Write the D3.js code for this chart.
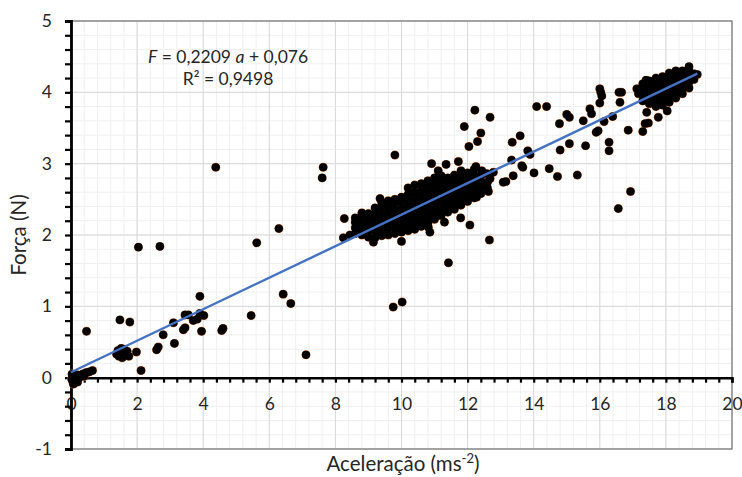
<!DOCTYPE html>
<html><head><meta charset="utf-8">
<script src="https://cdn.jsdelivr.net/npm/d3@7"></script>
<style>body{margin:0;background:#fff}svg{display:block}text{font-family:Lato,"DejaVu Sans",sans-serif;fill:#262626}</style>
</head><body>
<svg id="c" width="742" height="477"></svg>
<script>
// ---- data ----
const xTicks = [0,2,4,6,8,10,12,14,16,18,20];
const yTicks = [-1,0,1,2,3,4,5];
const slope = 0.2209, intercept = 0.076, r2 = "0,9498";
const lowPoints = [[0.02,-0.02],[0.05,-0.05],[0.07,-0.09],[0.10,-0.08],[0.03,0.05],[0.08,0.03],[0.12,0.00],[0.15,-0.03],[0.18,0.04],[0.20,-0.06],[0.25,0.00],[0.30,0.03],[0.35,0.05],[0.40,0.02],[0.45,0.07],[0.55,0.08],[0.65,0.10],[0.47,0.65],
[1.38,0.33],[1.42,0.38],[1.45,0.30],[1.50,0.36],[1.52,0.41],[1.55,0.28],[1.60,0.40],[1.65,0.32],[1.70,0.37],[1.75,0.30],[1.48,0.81],[1.78,0.78],[1.98,0.36],[2.12,0.10],[2.04,1.83],[2.69,1.84],[2.59,0.39],[2.64,0.43],[2.79,0.60],[3.13,0.48],[3.10,0.77],[3.40,0.67],[3.45,0.70],[3.45,0.88],[3.55,0.88],[3.70,0.80],[3.82,0.82],[3.90,0.90],[4.02,0.87],[3.95,0.65],[3.90,1.14],[4.38,2.95],[4.56,0.66],[4.60,0.69],[5.45,0.87],[5.62,1.89],[6.29,2.09],[6.42,1.17],[6.65,1.04],[7.11,0.32],[7.60,2.80],[7.63,2.95]];
const midPoints = [[8.24,1.96],[8.27,2.23],[8.44,2.00],[9.15,1.90],[9.35,2.51],[9.80,3.12],[9.75,0.99],[10.02,1.06],[10.00,1.91],[10.81,2.11],[10.86,2.04],[10.91,3.00],[11.11,2.90],[11.35,2.99],[11.72,3.03],[11.30,2.18],[11.79,2.24],[11.79,2.42],[12.07,2.14],[11.42,1.61],[12.66,1.93],[12.22,3.75],[12.68,3.65],[11.90,3.52],[12.40,3.43],[12.30,3.31],[12.04,3.24],[12.25,2.96],[12.43,2.90],[12.58,2.86],[12.68,2.79],[12.78,2.88],[12.27,2.53],[12.63,2.61]];
const clusterPoints = [
[8.6,2.02],[8.6,2.10],[8.6,2.18],[8.6,2.24],
[8.8,2.00],[8.8,2.08],[8.8,2.16],[8.8,2.25],[8.8,2.31],
[9.0,1.97],[9.0,2.06],[9.0,2.14],[9.0,2.22],[9.0,2.30],
[9.2,1.96],[9.2,2.05],[9.2,2.13],[9.2,2.21],[9.2,2.29],[9.2,2.38],
[9.4,1.99],[9.4,2.07],[9.4,2.15],[9.4,2.23],[9.4,2.31],[9.4,2.40],[9.4,2.46],
[9.6,2.00],[9.6,2.09],[9.6,2.17],[9.6,2.25],[9.6,2.33],[9.6,2.41],[9.6,2.48],
[9.8,2.02],[9.8,2.10],[9.8,2.18],[9.8,2.26],[9.8,2.35],[9.8,2.44],[9.8,2.50],
[10.0,2.04],[10.0,2.12],[10.0,2.20],[10.0,2.28],[10.0,2.37],[10.0,2.46],[10.0,2.53],
[10.2,2.06],[10.2,2.14],[10.2,2.22],[10.2,2.30],[10.2,2.39],[10.2,2.48],[10.2,2.57],[10.2,2.66],
[10.4,2.08],[10.4,2.16],[10.4,2.24],[10.4,2.33],[10.4,2.42],[10.4,2.51],[10.4,2.60],[10.4,2.70],
[10.6,2.12],[10.6,2.20],[10.6,2.28],[10.6,2.36],[10.6,2.45],[10.6,2.54],[10.6,2.63],[10.6,2.72],
[10.8,2.16],[10.8,2.24],[10.8,2.32],[10.8,2.40],[10.8,2.49],[10.8,2.58],[10.8,2.67],[10.8,2.76],
[11.0,2.22],[11.0,2.30],[11.0,2.38],[11.0,2.46],[11.0,2.55],[11.0,2.63],[11.0,2.72],[11.0,2.80],
[11.2,2.27],[11.2,2.35],[11.2,2.43],[11.2,2.51],[11.2,2.60],[11.2,2.68],[11.2,2.77],[11.2,2.83],
[11.4,2.32],[11.4,2.40],[11.4,2.48],[11.4,2.56],[11.4,2.64],[11.4,2.72],[11.4,2.80],
[11.6,2.36],[11.6,2.44],[11.6,2.52],[11.6,2.60],[11.6,2.68],[11.6,2.76],[11.6,2.84],
[11.8,2.42],[11.8,2.50],[11.8,2.58],[11.8,2.66],[11.8,2.74],[11.8,2.82],[11.8,2.90],
[12.0,2.47],[12.0,2.55],[12.0,2.63],[12.0,2.71],[12.0,2.79],[12.0,2.87],
[12.2,2.52],[12.2,2.60],[12.2,2.68],[12.2,2.76],[12.2,2.84],[12.2,2.92],
[12.4,2.58],[12.4,2.66],[12.4,2.74],[12.4,2.82],
[12.6,2.66],[12.6,2.74]];
const highPoints = [[13.08,2.74],[13.16,2.75],[13.38,2.83],[13.64,2.97],[13.67,2.95],[13.33,3.05],[13.59,3.39],[13.35,3.30],[13.82,3.18],[13.89,3.13],[14.01,2.87],[14.47,2.93],[14.72,2.82],[15.32,2.84],[14.09,3.80],[14.39,3.80],[14.78,3.56],[15.00,3.69],[15.08,3.65],[14.80,3.19],[15.08,3.28],[15.50,3.60],[15.57,3.25],[15.70,3.77],[15.75,3.70],[15.89,3.44],[15.95,3.46],[16.00,4.05],[16.06,3.95],[16.03,4.00],[16.00,3.85],[16.13,3.59],[16.39,3.66],[16.28,3.30],[16.28,3.18],[16.58,4.00],[16.66,4.00],[16.61,3.86],[16.86,3.47],[16.93,2.61],[16.56,2.37],[17.12,4.05],[17.17,3.98],[17.30,3.45],[17.37,3.56],[17.47,3.57],[17.42,3.72],[17.77,3.65],[18.04,3.74],[17.40,4.17],[17.47,4.12]];
const topCluster = [
[17.3,3.88],[17.3,3.96],[17.3,4.04],[17.3,4.12],
[17.5,3.84],[17.5,3.92],[17.5,4.00],[17.5,4.08],[17.5,4.16],
[17.7,3.80],[17.7,3.88],[17.7,3.96],[17.7,4.04],[17.7,4.12],[17.7,4.20],
[17.9,3.82],[17.9,3.90],[17.9,3.98],[17.9,4.06],[17.9,4.14],[17.9,4.22],
[18.1,3.86],[18.1,3.94],[18.1,4.02],[18.1,4.10],[18.1,4.18],[18.1,4.27],
[18.3,3.92],[18.3,4.00],[18.3,4.08],[18.3,4.16],[18.3,4.24],[18.3,4.30],
[18.5,3.98],[18.5,4.06],[18.5,4.14],[18.5,4.22],[18.5,4.30],
[18.7,4.06],[18.7,4.14],[18.7,4.22],[18.7,4.30],[18.7,4.36],
[18.85,4.18],[18.85,4.26],[18.95,4.25]];
const points = [...lowPoints, ...midPoints, ...clusterPoints, ...highPoints, ...topCluster];

// ---- chart ----
const svg = d3.select("#c");
const x = d3.scaleLinear().domain([0,20]).range([71,732]);
const y = d3.scaleLinear().domain([-1,5]).range([449,21]);

// minor grid
const g = svg.append("g");
g.selectAll(".vmin").data(d3.range(0,51).map(i=>i*0.4)).join("line")
  .attr("x1",d=>x(d)).attr("x2",d=>x(d)).attr("y1",y(5)).attr("y2",y(-1))
  .attr("stroke","#f0f0f0").attr("stroke-width",1);
g.selectAll(".hmin").data(d3.range(0,31).map(i=>-1+i*0.2)).join("line")
  .attr("x1",x(0)).attr("x2",x(20)).attr("y1",d=>y(d)).attr("y2",d=>y(d))
  .attr("stroke","#f0f0f0").attr("stroke-width",1);
// major grid
g.selectAll(".vmaj").data(xTicks).join("line")
  .attr("x1",d=>x(d)).attr("x2",d=>x(d)).attr("y1",y(5)).attr("y2",y(-1))
  .attr("stroke","#d9d9d9").attr("stroke-width",1);
g.selectAll(".hmaj").data(yTicks).join("line")
  .attr("x1",x(0)).attr("x2",x(20)).attr("y1",d=>y(d)).attr("y2",d=>y(d))
  .attr("stroke","#d9d9d9").attr("stroke-width",1);
// plot border
svg.append("rect").attr("x",x(0)).attr("y",y(5)).attr("width",x(20)-x(0)).attr("height",y(-1)-y(5))
  .attr("fill","none").attr("stroke","#7f7f7f").attr("stroke-width",1.3);

// x axis at y=0
const xAxis = d3.axisBottom(x)
  .tickValues(d3.range(0,51).map(i=>i*0.4))
  .tickSize(5).tickPadding(15)
  .tickFormat(d=> (Math.abs(d-Math.round(d))<1e-6 && Math.round(d)%2===0) ? String(Math.round(d)) : "");
const xa = svg.append("g").attr("transform",`translate(0,${y(0)})`).call(xAxis);
xa.select(".domain").attr("stroke","#000").attr("stroke-width",2.5);
xa.selectAll(".tick line").attr("stroke","#000").attr("stroke-width",2.2);
xa.selectAll("text").attr("font-size",17.5).attr("fill","#262626").style("font-family","Lato");

// y axis
const yAxis = d3.axisLeft(y)
  .tickValues(d3.range(0,31).map(i=>-1+i*0.2))
  .tickSize(6).tickPadding(13)
  .tickFormat(d=> Math.abs(d-Math.round(d))<1e-6 ? String(Math.round(d)) : "");
const ya = svg.append("g").attr("transform",`translate(${x(0)},0)`).call(yAxis);
ya.select(".domain").attr("stroke","#000").attr("stroke-width",2.8);
ya.selectAll(".tick line").attr("stroke","#000").attr("stroke-width",2.2);
ya.selectAll("text").attr("font-size",17.5).attr("fill","#262626").style("font-family","Lato");

// points: orange rim layer under black fill layer
svg.append("g").selectAll("circle").data(points).join("circle")
  .attr("cx",d=>x(d[0])).attr("cy",d=>y(d[1])).attr("r",4.5)
  .attr("fill","#c0601e");
svg.append("g").selectAll("circle").data(points).join("circle")
  .attr("cx",d=>x(d[0])).attr("cy",d=>y(d[1])).attr("r",4.1)
  .attr("fill","#000");

// trendline
const xMax = d3.max(points,d=>d[0]);
svg.append("line")
  .attr("x1",x(0)).attr("y1",y(intercept))
  .attr("x2",x(xMax)).attr("y2",y(slope*xMax+intercept))
  .attr("stroke","#4472c4").attr("stroke-width",2.4);

// equation
const eq = svg.append("text").attr("x",228).attr("y",63).attr("text-anchor","middle").attr("font-size",17.5);
eq.append("tspan").attr("font-style","italic").text("F");
eq.append("tspan").text(" = 0,2209 ");
eq.append("tspan").attr("font-style","italic").text("a");
eq.append("tspan").text(" + 0,076");
svg.append("text").attr("x",228).attr("y",85).attr("text-anchor","middle").attr("font-size",17.5).text("R² = " + r2);

// axis titles
const xt = svg.append("text").attr("x",403).attr("y",471).attr("text-anchor","middle").attr("font-size",20.5);
xt.append("tspan").text("Aceleração (ms");
xt.append("tspan").attr("dy",-8).attr("font-size",13).text("-2");
xt.append("tspan").attr("dy",8).text(")");
svg.append("text").attr("transform","translate(26,235) rotate(-90)").attr("text-anchor","middle").attr("font-size",20.5).text("Força (N)");
</script>
</body></html>
